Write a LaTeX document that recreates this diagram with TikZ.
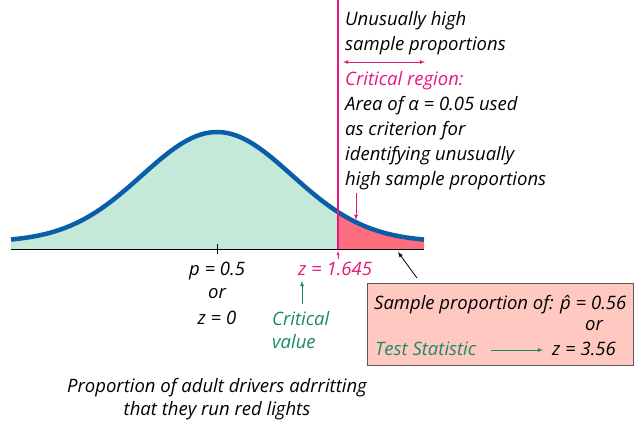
\documentclass[tikz,border=0pt]{standalone}
\usepackage{fontspec}
\setmainfont{Open Sans}
\usetikzlibrary{positioning}

\definecolor{curveblue}{HTML}{0A5EA8}
\definecolor{critpink}{HTML}{E8177D}
\definecolor{tailred}{HTML}{FF6E7F}
\definecolor{bodygreen}{HTML}{C4E9D9}
\definecolor{statgreen}{HTML}{1A8A63}
\definecolor{boxpink}{HTML}{FFC9C2}

\tikzset{
  declare function={dens(\x)=242-110*exp(-((\x-217)/75)^2/2);},
  lbl/.style={inner sep=0pt, font=\fontsize{18.5}{21}\selectfont\itshape},
  lft/.style={lbl, anchor=base west},
  mid/.style={lbl, anchor=base},
}

\begin{document}
\begin{tikzpicture}[x=1pt, y=-1pt, >=latex]
\useasboundingbox (0,0) rectangle (634,424);

% areas under the curve
\fill[bodygreen] (11,249) -- plot[domain=11:338, samples=80] (\x,{dens(\x)}) -- (338,249) -- cycle;
\fill[tailred] (338,249) -- plot[domain=338:424, samples=30] (\x,{dens(\x)}) -- (424,249) -- cycle;
\draw[curveblue, line width=4.5pt] plot[domain=11:424, samples=120] (\x,{dens(\x)});

% axis and cut-off line
\draw[line width=1pt] (11,249) -- (424,249);
\draw (217,244) -- (217,254);
\draw[critpink, line width=2pt] (338,0) -- (338,249);

% right hand notes
\node[lft] (uhigh) at (345,25) {Unusually high};
\node[lft] (uprop) at (345,50) {sample proportions};
\coordinate (rl) at (343,62);
\coordinate (rr) at (425,62);
\draw[critpink, thick, <->] (rl) -- (rr);
\node[lft, text=critpink] (crreg) at (345,85) {Critical region:};
\node[lft] (area1) at (345,110) {Area of α = 0.05 used};
\node[lft] (area2) at (345,135) {as criterion for};
\node[lft] (area3) at (345,160) {identifying unusually};
\node[lft] (area4) at (345,185) {high sample proportions};
\coordinate (tailpt) at (356,220);
\draw[critpink, thick, ->] (area4.south west -| tailpt) ++(0,3) -- (tailpt);

% values under the axis
\node[mid] (pval) at (217,275) {p = 0.5};
\node[mid] (por) at (217,298) {or};
\node[mid] (zval) at (217,324) {z = 0};
\node[lft, text=critpink] (zcrit) at (298,275) {z = 1.645};
\coordinate (cutpt) at (338,251);
\draw[critpink, ->] (338,259) -- (cutpt);
\node[lft, text=statgreen] (crit) at (272,325) {Critical};
\node[lft, text=statgreen] (cval) at (272,348) {value};
\coordinate (cvtip) at (302,281);
\draw[statgreen, thick, ->] (302,304) -- (cvtip);

% sample result box
\draw[fill=boxpink, draw=black!65, line width=1pt] (367,283) rectangle (633,365);
\node[lft] (samp) at (374,309) {Sample proportion of: \^{p} = 0.56};
\node[mid] (bor) at (594,330) {or};
\node[lft, text=statgreen] (tstat) at (375,355) {Test Statistic};
\node[lft] (zstat) at (552,355) {z = 3.56};
\draw[statgreen, thick, ->] (tstat.east |- 0,350) ++(14,0) -- (543,350);
\coordinate (boxcorner) at (417,278);
\coordinate (tailend) at (398,252);
\draw[thick, ->] (boxcorner) -- (tailend);

% caption
\node[mid] (cap1) at (217,392) {Proportion of adult drivers adrritting};
\node[mid] (cap2) at (217,415) {that they run red lights};
\end{tikzpicture}
\end{document}
